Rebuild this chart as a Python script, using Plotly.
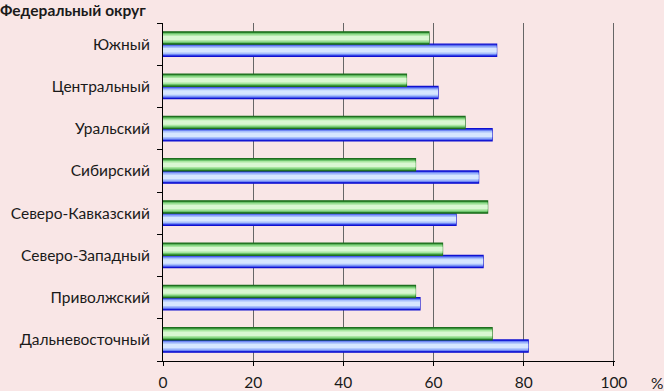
import plotly.graph_objects as go

# Categories listed bottom to top
districts = ["Дальневосточный", "Приволжский", "Северо-Западный", "Северо-Кавказский",
             "Сибирский", "Уральский", "Центральный", "Южный"]
green_values = [73, 56, 62, 72, 56, 67, 54, 59]
blue_values = [81, 57, 71, 65, 70, 73, 61, 74]
x_ticks = [0, 20, 40, 60, 80, 100]

BAR_W = 0.29
FONT = "Lato"

fig = go.Figure()

def gradient_bar(values, base_offset, layers, outline):
    # layers: list of (fraction_of_width, color), from outer to inner
    for i, (frac, color) in enumerate(layers):
        w = BAR_W * frac
        off = base_offset + (BAR_W - w) / 2
        fig.add_trace(go.Bar(
            y=districts, x=values, orientation="h",
            width=[w] * len(values), offset=[off] * len(values),
            marker=dict(color=color,
                        line=dict(color=outline if i == 0 else color, width=1.2 if i == 0 else 0)),
            showlegend=False, hoverinfo="skip"))

green_layers = [(1.0, "#2f8a2f"), (0.8, "#6cc46c"), (0.6, "#a8e6a0"), (0.35, "#d9f7d2")]
blue_layers = [(1.0, "#1f2fe0"), (0.8, "#6f86f5"), (0.6, "#a8c0fb"), (0.35, "#d6e6ff")]

gradient_bar(blue_values, -BAR_W, blue_layers, "#1010d0")
gradient_bar(green_values, 0.0, green_layers, "#1f6e1f")

fig.update_layout(
    width=664, height=391,
    barmode="overlay",
    paper_bgcolor="#f9e6e6", plot_bgcolor="#f9e6e6",
    margin=dict(l=163, r=49, t=23, b=30, autoexpand=False),
    font=dict(family=FONT, size=15.5, color="#1a1a1a"),
    xaxis=dict(range=[0, 100.25], tickvals=x_ticks, showgrid=True, gridcolor="#666666",
               gridwidth=1, showline=True, linecolor="#000000", linewidth=1,
               ticks="outside", ticklen=4, tickcolor="#000000", zeroline=False,
               tickfont=dict(size=15.5), fixedrange=True, automargin=False,
               ticklabelstandoff=3),
    yaxis=dict(showline=True, linecolor="#000000", linewidth=1, ticks="outside",
               tickson="boundaries", ticklen=5, tickcolor="#000000",
               tickfont=dict(size=15.5), range=[-0.5, 7.5], fixedrange=True,
               automargin=False, ticklabelstandoff=9),
    annotations=[
        dict(text="<b>Федеральный округ</b>", x=0, y=1, xref="paper", yref="paper",
             xanchor="left", yanchor="top", showarrow=False, xshift=-165, yshift=24,
             font=dict(size=15.5, family=FONT)),
        dict(text="%", x=1, y=0, xref="paper", yref="paper", xanchor="left", yanchor="top",
             showarrow=False, xshift=34, yshift=-11, font=dict(size=15.5, family=FONT)),
    ],
)

fig.write_html("out.html", config={"displayModeBar": False},
               post_script="document.body.style.margin='0';document.body.style.background='#f9e6e6';")
